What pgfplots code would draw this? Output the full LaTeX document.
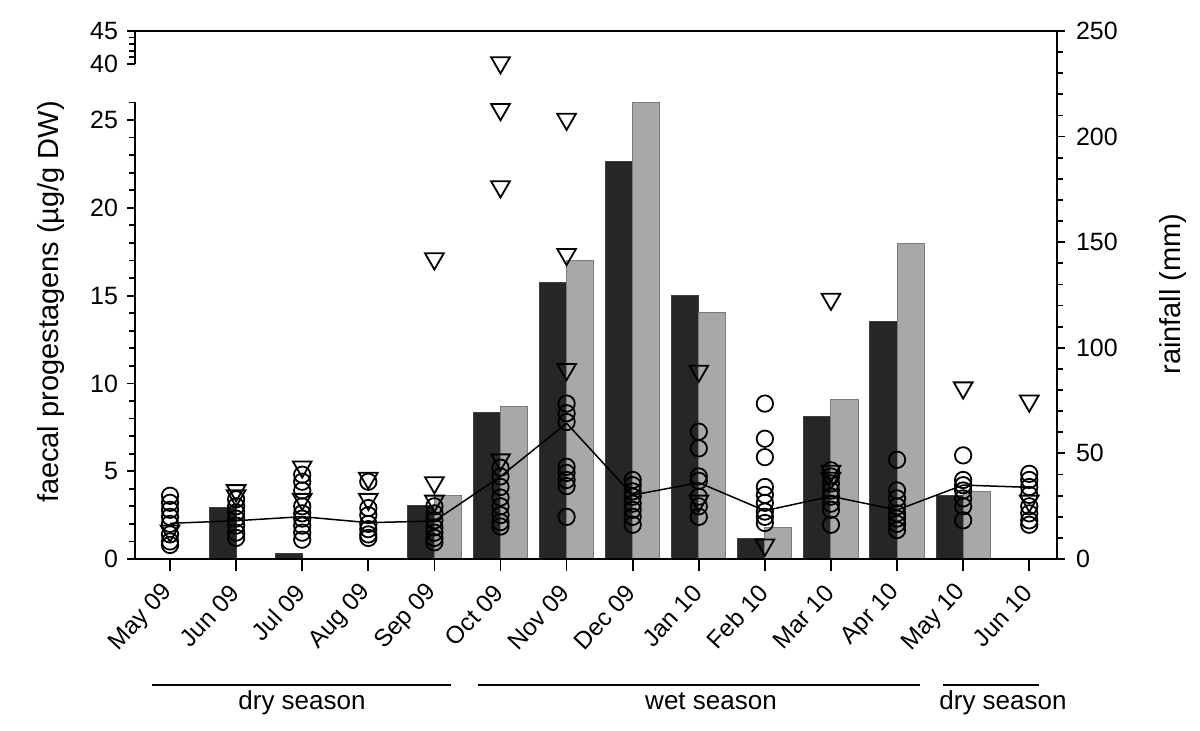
\documentclass[border=0pt]{standalone}
\usepackage{pgfplots}
\pgfplotsset{compat=1.18}
\usepackage{fontspec}
\setmainfont{Liberation Sans}
\definecolor{darkbar}{HTML}{262626}
\definecolor{lightbar}{HTML}{A8A8A8}
\definecolor{darkedge}{HTML}{404040}
\definecolor{lightedge}{HTML}{7A7A7A}

\pgfplotstableread{
x dark
1 24.2
2 2.8
4 25.4
5 69.5
6 131.0
7 188.2
8 124.9
9 9.8
10 67.5
11 112.6
12 29.9
}\darkbars
\pgfplotstableread{
x light
4 30.2
5 72.3
6 141.3
7 216.1
8 116.6
9 15.0
10 75.3
11 149.3
12 32.1
}\lightbars
\pgfplotstableread{
x y
0 3.6
0 3.2
0 2.8
0 2.4
0 2.0
0 1.4
0 1.0
0 0.8
1 3.4
1 3.0
1 2.65
1 2.3
1 1.9
1 1.5
1 1.2
2 4.8
2 4.4
2 3.9
2 3.0
2 2.6
2 2.3
2 1.9
2 1.5
2 1.1
3 4.4
3 2.9
3 2.5
3 2.0
3 1.7
3 1.4
3 1.2
4 3.0
4 2.6
4 2.2
4 1.8
4 1.5
4 1.2
4 0.95
5 5.2
5 4.7
5 4.1
5 3.5
5 3.0
5 2.5
5 2.1
5 1.85
6 8.85
6 8.3
6 7.8
6 5.25
6 4.9
6 4.5
6 4.15
6 2.4
7 4.5
7 4.2
7 3.85
7 3.55
7 3.15
7 2.8
7 2.4
7 1.95
8 7.25
8 6.3
8 4.7
8 4.45
8 3.55
8 3.0
8 2.4
9 8.85
9 6.85
9 5.8
9 4.1
9 3.65
9 3.2
9 2.7
9 2.4
9 2.05
10 5.05
10 4.7
10 4.3
10 3.9
10 3.55
10 3.15
10 2.8
10 1.95
11 5.65
11 3.9
11 3.45
11 3.0
11 2.6
11 2.3
11 2.0
11 1.65
12 5.9
12 4.5
12 4.2
12 3.9
12 3.45
12 3.0
12 2.2
13 4.85
13 4.5
13 4.1
13 3.65
13 3.0
13 2.6
13 2.2
13 1.95
}\circles
\pgfplotstableread{
x y
0 1.6
1 3.9
1 3.6
2 5.25
2 3.4
3 4.6
3 3.4
4 17.1
4 4.35
4 3.3
5 40.2
5 25.6
5 21.2
5 5.65
6 25.05
6 17.35
6 10.8
8 10.7
8 3.3
9 0.8
10 14.8
10 5.0
10 4.6
12 9.75
13 9.0
13 3.3
}\triangles
\pgfplotstableread{
x y
0 2.03
1 2.18
2 2.41
3 2.07
4 2.16
5 4.7
6 7.73
7 3.64
8 4.35
9 2.75
10 3.57
11 2.79
12 4.21
13 4.08
}\median

\begin{document}
\begin{tikzpicture}
\pgfplotsset{
  every axis/.append style={
    scale only axis, width=461pt, height=264pt,
    xmin=-0.53, xmax=13.42,
    tick label style={font=\fontsize{12.5}{14}\selectfont},
    /pgf/number format/assume math mode=true,
    tick align=outside,
    major tick length=4pt, minor tick length=2.8pt,
    axis line style={line width=1pt},
    every tick/.style={black, line width=0.9pt},
  }
}
% rainfall axis (right)
\begin{axis}[
  ymin=0, ymax=250,
  axis y line*=right, axis x line*=top,
  xtick=\empty,
  ytick={0,50,100,150,200,250},
  minor ytick={10,20,30,40,60,70,80,90,110,120,130,140,160,170,180,190,210,220,230,240},
  yticklabel style={xshift=2pt},
]
\addplot[ybar, bar width=0.41, bar shift=-0.205, fill=darkbar, draw=darkedge, line width=0.5pt] table[x=x, y=dark] {\darkbars};
\addplot[ybar, bar width=0.41, bar shift=0.205, fill=lightbar, draw=lightedge, line width=0.5pt] table[x=x, y=light] {\lightbars};
\end{axis}
% progestagens axis (left, broken)
\begin{axis}[
  ymin=0, ymax=45,
  y coord trafo/.code={\pgfmathparse{#1<=30 ? #1 : 28.19+(#1-40)*0.376}},
  axis x line*=bottom, axis y line*=left,
  y axis line style={draw=none},
  ytick={0,5,10,15,20,25,40,45},
  yticklabels={0,5,10,15,20,25,40,45},
  minor ytick={1,2,3,4,6,7,8,9,11,12,13,14,16,17,18,19,21,22,23,24,26,41,42,43,44},
  xtick={0,1,2,3,4,5,6,7,8,9,10,11,12,13},
  xticklabels={May 09, Jun 09, Jul 09, Aug 09, Sep 09, Oct 09, Nov 09, Dec 09, Jan 10, Feb 10, Mar 10, Apr 10, May 10, Jun 10},
  xtick style={/pgfplots/major tick length=6pt},
  xticklabel style={font=\fontsize{12.2}{13}\selectfont, xshift=0pt, yshift=-10pt, rotate=47, anchor=east, inner sep=1pt},
  yticklabel style={xshift=-1pt},
  clip=false,
]
\addplot[black, line width=0.75pt, mark=none] table[x=x, y=y] {\median};
\addplot[only marks, mark=o, mark size=4.1pt, mark options={line width=0.9pt, draw=black}] table[x=x, y=y] {\circles};
\addplot[only marks, mark=triangle, mark size=5.4pt, mark options={rotate=180, line width=0.9pt, draw=black}] table[x=x, y=y] {\triangles};
\draw[line width=1pt] (rel axis cs:0,0) -- (rel axis cs:0,0.86465);
\draw[line width=1pt] (rel axis cs:0,0.93748) -- (rel axis cs:0,1);
\end{axis}
% axis titles
\node[rotate=90, font=\fontsize{14.5}{16}\selectfont] at (-42pt,128.5pt) {faecal progestagens (µg/g DW)};
\node[rotate=90, font=\fontsize{14.5}{16}\selectfont] at (519pt,132.5pt) {rainfall (mm)};
% season bars
\draw[line width=1pt] (8.5pt,-63pt) -- (158pt,-63pt);
\draw[line width=1pt] (171.25pt,-63pt) -- (392.25pt,-63pt);
\draw[line width=1pt] (404pt,-63pt) -- (452pt,-63pt);
\node[font=\fontsize{13}{15}\selectfont, anchor=base] at (83.5pt,-75.5pt) {dry season};
\node[font=\fontsize{13}{15}\selectfont, anchor=base] at (288pt,-75.5pt) {wet season};
\node[font=\fontsize{13}{15}\selectfont, anchor=base] at (434pt,-75.5pt) {dry season};
\pgfresetboundingbox
\path (-67.5pt,-86pt) rectangle (532.5pt,279.5pt);
\end{tikzpicture}
\end{document}
